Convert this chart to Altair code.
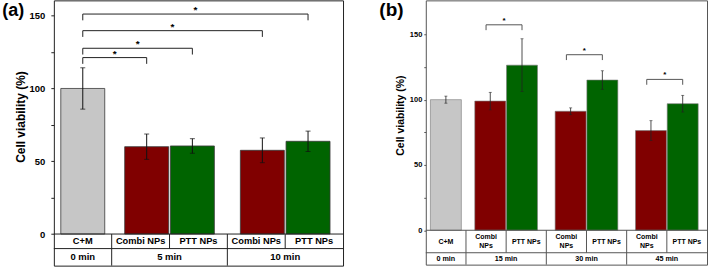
import altair as alt
import pandas as pd

FONT = "Liberation Sans"

# ---------------- Panel (a) data ----------------
a_labels = ["C+M", "Combi NPs", "PTT NPs", "Combi NPs", "PTT NPs"]
a_kinds = ["control", "combi", "ptt", "combi", "ptt"]
a_values = [100.0, 60.0, 60.5, 57.5, 63.7]
a_errors = [14.2, 8.7, 5.0, 8.5, 7.0]
a_groups = ["0 min", "5 min", "10 min"]
a_group_spans = [1, 2, 2]
a_sig_pairs = [(0, 1), (0, 2), (0, 3), (0, 4)]
a_sig_levels = [121.2, 127.6, 139.7, 151.1]

# ---------------- Panel (b) data ----------------
b_labels = ["C+M", "Combi\nNPs", "PTT NPs", "Combi\nNPs", "PTT NPs", "Combi\nNPs", "PTT NPs"]
b_kinds = ["control", "combi", "ptt", "combi", "ptt", "combi", "ptt"]
b_values = [100.0, 98.9, 126.4, 91.1, 115.0, 76.3, 96.9]
b_errors = [2.7, 6.7, 20.2, 2.6, 7.1, 7.6, 6.4]
b_groups = ["0 min", "15 min", "30 min", "45 min"]
b_group_spans = [1, 2, 2, 2]
b_sig_pairs = [(1, 2), (3, 4), (5, 6)]
b_sig_levels = [157.3, 134.4, 115.5]

y_tick_values = [0, 25, 50, 75, 100, 125, 150]
kind_domain = ["control", "combi", "ptt"]
kind_colors = ["#c6c6c6", "#800000", "#006400"]


def make_panel(labels, kinds, values, errors, groups, spans, sig_pairs, sig_levels, panel_label, cfg):
    n = len(labels)
    w = cfg["bar_frac"]
    gap = cfg["gap"]
    ymin, ymax = cfg["ydom"]
    sep = cfg["sep"]

    rows = []
    for i, (k, v, e) in enumerate(zip(kinds, values, errors)):
        if k == "control":
            x0 = i + (1 - w) / 2
        elif k == "combi":
            x0 = i + 1 - gap - w
        else:
            x0 = i + gap
        rows.append(dict(kind=k, value=v, x0=x0, x1=x0 + w, xc=x0 + w / 2, lo=v - e, hi=v + e))
    bars = pd.DataFrame(rows)

    xs = alt.Scale(domain=[0, n], nice=False, zero=False)
    ys = alt.Scale(domain=[ymin, ymax], nice=False, zero=False)
    yaxis = alt.Axis(
        values=y_tick_values,
        labelExpr="datum.value % 50 == 0 ? datum.label : ''",
        grid=False, domain=False,
        tickSize=cfg["tick_size"], tickColor=cfg["line_color"], tickWidth=1,
        labelFont=FONT, labelFontWeight="bold", labelFontSize=cfg["label_size"],
        labelColor="black", labelPadding=cfg["label_pad"],
        title="Cell viability (%)", titleFont=FONT, titleFontWeight="bold",
        titleFontSize=cfg["title_size"], titleColor="black",
        titleX=cfg["title_x"], titleY=cfg["title_y"],
    )

    def X(f):
        return alt.X(f, type="quantitative", scale=xs, axis=None)

    def Y(f):
        return alt.Y(f, type="quantitative", scale=ys, axis=yaxis)

    bar_layer = alt.Chart(bars).mark_rect(
        stroke=cfg["bar_stroke"], strokeWidth=cfg["bar_stroke_w"]
    ).encode(
        x=X("x0"), x2="x1:Q", y=Y("value"), y2=alt.datum(0),
        color=alt.Color("kind:N", scale=alt.Scale(domain=kind_domain, range=kind_colors), legend=None),
    )

    err_layer = alt.Chart(bars).mark_rule(
        color=cfg["err_color"], strokeWidth=cfg["err_w"]
    ).encode(x=X("xc"), y=Y("lo"), y2="hi:Q")

    cap_layer = alt.Chart(bars).transform_fold(
        ["lo", "hi"], as_=["end", "yy"]
    ).mark_tick(
        orient="horizontal", size=cfg["cap"], thickness=cfg["err_w"], color=cfg["err_color"]
    ).encode(x=X("xc"), y=Y("yy"))

    # table lines
    hl = pd.DataFrame(dict(y=[0, sep], x0=[0, 0], x1=[n, n]))
    h_layer = alt.Chart(hl).mark_rule(color=cfg["line_color"], strokeWidth=1).encode(
        x=X("x0"), x2="x1:Q", y=Y("y"))

    group_bounds = []
    acc = 0
    for s in spans[:-1]:
        acc += s
        group_bounds.append(acc)
    vrows = []
    for b in range(1, n):
        vrows.append(dict(x=b, y0=0, y1=(ymin if b in group_bounds else sep)))
    v_layer = alt.Chart(pd.DataFrame(vrows)).mark_rule(color=cfg["line_color"], strokeWidth=1).encode(
        x=X("x"), y=Y("y0"), y2="y1:Q")

    # first table row: single-line and two-line labels
    r1 = pd.DataFrame(dict(x=[i + 0.5 for i in range(n)], y=[sep / 2] * n, t=labels))
    r1["multi"] = r1["t"].str.contains("\n")
    text_kw = dict(font=FONT, fontWeight="bold", fontSize=cfg["row1_size"], color="black",
                   baseline="middle", align="center", lineBreak="\n", lineHeight=cfg["line_h"])
    r1_single = alt.Chart(r1[~r1["multi"]]).mark_text(**text_kw).encode(
        x=X("x"), y=Y("y"), text="t:N")
    r1_multi = alt.Chart(r1[r1["multi"]]).mark_text(dy=-cfg["line_h"] / 2, **text_kw).encode(
        x=X("x"), y=Y("y"), text="t:N")

    gx = []
    acc = 0
    for s in spans:
        gx.append(acc + s / 2)
        acc += s
    r2 = pd.DataFrame(dict(x=gx, y=[(sep + ymin) / 2] * len(groups), t=groups))
    r2_layer = alt.Chart(r2).mark_text(
        font=FONT, fontWeight="bold", fontSize=cfg["row2_size"], color="black",
        baseline="middle", align="center",
    ).encode(x=X("x"), y=Y("y"), text="t:N")

    # significance brackets
    cell_c = [i + 0.5 for i in range(n)]
    bh, bv, st = [], [], []
    for (l, r), lev in zip(sig_pairs, sig_levels):
        xl = cell_c[l]
        xr = bars.loc[r, "xc"]
        bh.append(dict(x0=xl, x1=xr, y=lev))
        bv.append(dict(x=xl, y0=lev, y1=lev - cfg["drop"]))
        bv.append(dict(x=xr, y0=lev, y1=lev - cfg["drop"]))
        st.append(dict(x=(xl + xr) / 2, y=lev, t="*"))
    bh_layer = alt.Chart(pd.DataFrame(bh)).mark_rule(color=cfg["br_color"], strokeWidth=1).encode(
        x=X("x0"), x2="x1:Q", y=Y("y"))
    bv_layer = alt.Chart(pd.DataFrame(bv)).mark_rule(color=cfg["br_color"], strokeWidth=1).encode(
        x=X("x"), y=Y("y0"), y2="y1:Q")
    st_layer = alt.Chart(pd.DataFrame(st)).mark_text(
        font=FONT, fontWeight="bold", fontSize=cfg["star_size"], color="black",
        baseline="alphabetic", align="center", dy=cfg["star_dy"],
    ).encode(x=X("x"), y=Y("y"), text="t:N")

    lab = pd.DataFrame(dict(x=[cfg["plab_x"]], y=[cfg["plab_y"]], t=[panel_label]))
    lab_layer = alt.Chart(lab).mark_text(
        font=FONT, fontWeight="bold", fontSize=cfg["plab_size"], color="black",
        baseline="alphabetic", align="left",
    ).encode(x=X("x"), y=Y("y"), text="t:N")

    return alt.layer(
        bar_layer, err_layer, cap_layer, h_layer, v_layer, r1_single, r1_multi, r2_layer,
        bh_layer, bv_layer, st_layer, lab_layer,
    ).properties(
        width=cfg["width"], height=cfg["height"],
        view=alt.ViewBackground(stroke=cfg["line_color"], strokeWidth=1, fill="white"),
    )


cfg_a = dict(
    width=290, height=266, ydom=(-21.7, 160.5), sep=-10.0,
    bar_frac=0.76, gap=0.015, bar_stroke="#3a3a3a", bar_stroke_w=0.8,
    err_color="#111111", err_w=1, cap=5,
    tick_size=3, label_size=9.5, label_pad=6, title_size=12, title_x=-26, title_y=116.5,
    line_color="#222222", row1_size=9.3, row2_size=9.5, line_h=9,
    br_color="#222222", drop=4.3, star_size=10, star_dy=-1,
    plab_x=-0.89, plab_y=150.1, plab_size=18,
)
cfg_b = dict(
    width=282, height=265, ydom=(-26.3, 176.0), sep=-17.2,
    bar_frac=0.77, gap=0.01, bar_stroke="#777777", bar_stroke_w=0.6,
    err_color="#222222", err_w=0.8, cap=3,
    tick_size=2, label_size=7.5, label_pad=2, title_size=10.5, title_x=-20, title_y=115,
    line_color="#555555", row1_size=7, row2_size=7.2, line_h=9,
    br_color="#555555", drop=4.1, star_size=8, star_dy=-2,
    plab_x=-1.156, plab_y=163.7, plab_size=19,
)

panel_a = make_panel(a_labels, a_kinds, a_values, a_errors, a_groups, a_group_spans,
                     a_sig_pairs, a_sig_levels, "(a)", cfg_a)
panel_b = make_panel(b_labels, b_kinds, b_values, b_errors, b_groups, b_group_spans,
                     b_sig_pairs, b_sig_levels, "(b)", cfg_b)

chart = alt.hconcat(panel_a, panel_b, spacing=34).properties(
    padding={"left": 1, "top": -1, "right": 0, "bottom": 0},
    background="white",
)

chart.save("out.html", embed_options={"renderer": "svg", "actions": False})
